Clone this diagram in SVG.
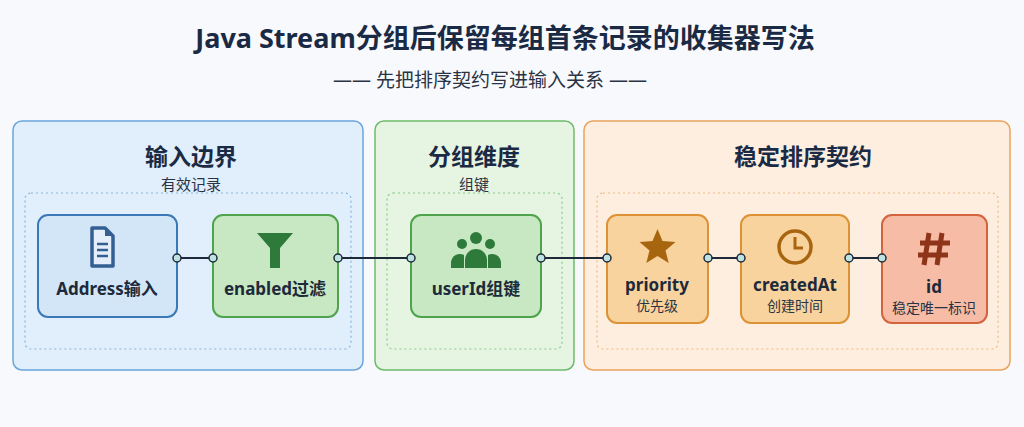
<svg xmlns="http://www.w3.org/2000/svg" width="1024" height="427" viewBox="0 0 1024 427">
<style>
text{font-family:"Noto Sans","Noto Sans CJK SC",sans-serif;text-anchor:middle}
.t{font-size:27px;font-weight:700;fill:#1b2a44}
.pt{font-size:23px;font-weight:700;fill:#1b2a44}
.ps{font-size:15px;fill:#2a3344}
.nl{font-size:17px;font-weight:700;fill:#1e2a3a}
.ns{font-size:14px;fill:#2a3344}
.in{fill:none;stroke-width:1.2;stroke-dasharray:2 3}
.c{stroke:#1e2a3a;stroke-width:2}
.d{fill:#bfe3e3;stroke:#1e2a3a;stroke-width:1.5}
</style>
<rect width="1024" height="427" fill="#f7f9fc"/>
<text x="505" y="48" class="t">Java Stream分组后保留每组首条记录的收集器写法</text>
<text x="490" y="87" style="font-size:19px;fill:#2a3344">—— 先把排序契约写进输入关系 ——</text>
<g id="panel-input">
<rect x="13" y="121" width="350" height="249" rx="9" fill="#e1eefb" stroke="#6aa5dc" stroke-width="1.5"/>
<text x="191" y="165" class="pt">输入边界</text>
<text x="191" y="190" class="ps">有效记录</text>
<rect x="25" y="193" width="326" height="156" rx="6" class="in" stroke="#8bb5dc"/>
</g>
<g id="panel-group">
<rect x="375" y="121" width="199" height="249" rx="9" fill="#e6f5e2" stroke="#6dbb6a" stroke-width="1.5"/>
<text x="474" y="165" class="pt">分组维度</text>
<text x="474" y="190" class="ps">组键</text>
<rect x="387" y="193" width="175" height="156" rx="6" class="in" stroke="#8cc98a"/>
</g>
<g id="panel-sort">
<rect x="584" y="121" width="426" height="249" rx="9" fill="#fdeee0" stroke="#eba35c" stroke-width="1.5"/>
<text x="803" y="165" class="pt">稳定排序契约</text>
<rect x="597" y="193" width="401" height="156" rx="6" class="in" stroke="#f0b981"/>
</g>
<g id="node-address">
<rect x="38" y="215" width="139" height="102" rx="10" fill="#d3e6f8" stroke="#3a78b8" stroke-width="2"/>
<path d="M92 228h13l8 8v30h-21z" fill="#e4eefa" stroke="#345f92" stroke-width="3.5" stroke-linejoin="round"/>
<path d="M105 228v8h8z" fill="#345f92"/>
<path d="M97 244h11M97 250h11M97 256h11" stroke="#345f92" stroke-width="2.5"/>
<text x="107" y="295" class="nl">Address输入</text>
</g>
<g id="node-enabled">
<rect x="213" y="215" width="125" height="102" rx="10" fill="#c7e8c2" stroke="#4fa34c" stroke-width="2"/>
<path d="M257 233h36l-13 15v20h-10v-20z" fill="#2e7a3a"/>
<text x="275" y="295" class="nl">enabled过滤</text>
</g>
<g id="node-userid">
<rect x="411" y="215" width="130" height="102" rx="10" fill="#c7e8c2" stroke="#4fa34c" stroke-width="2"/>
<g fill="#2e7a3a">
<circle cx="476" cy="238" r="6"/><circle cx="462" cy="244" r="5"/><circle cx="490" cy="244" r="5"/>
<path d="M465 268v-8a11 11 0 0 1 22 0v8z"/>
<path d="M451 268v-6a9 9 0 0 1 13-7v13z"/><path d="M501 268v-6a9 9 0 0 0-13-7v13z"/>
</g>
<text x="476" y="295" class="nl">userId组键</text>
</g>
<g id="node-priority">
<rect x="607" y="215" width="101" height="108" rx="10" fill="#f8d39e" stroke="#dc9235" stroke-width="2"/>
<path d="M657.5 229l5 12 13 1-10 8.5 3.2 12.5-11.2-7-11.2 7 3.2-12.5-10-8.5 13-1z" fill="#a8650f"/>
<text x="657" y="291" class="nl">priority</text>
<text x="657" y="311" class="ns">优先级</text>
</g>
<g id="node-createdat">
<rect x="741" y="215" width="108" height="108" rx="10" fill="#f8d39e" stroke="#dc9235" stroke-width="2"/>
<circle cx="795" cy="247" r="16" fill="none" stroke="#a8650f" stroke-width="3.5"/>
<path d="M795 237v11h8" fill="none" stroke="#a8650f" stroke-width="3"/>
<text x="795" y="291" class="nl">createdAt</text>
<text x="795" y="311" class="ns">创建时间</text>
</g>
<g id="node-id">
<rect x="882" y="215" width="105" height="108" rx="10" fill="#f7bca6" stroke="#d4643d" stroke-width="2"/>
<path d="M929 233l-5 32M942 233l-5 32M920 243h30M918 255h30" stroke="#8e3418" stroke-width="5"/>
<text x="934" y="293" class="nl">id</text>
<text x="934" y="313" class="ns">稳定唯一标识</text>
</g>
<g id="connectors">
<line x1="177" y1="258" x2="213" y2="258" class="c"/>
<line x1="338" y1="258" x2="411" y2="258" class="c"/>
<line x1="541" y1="258" x2="607" y2="258" class="c"/>
<line x1="708" y1="258" x2="741" y2="258" class="c"/>
<line x1="849" y1="258" x2="882" y2="258" class="c"/>
<circle cx="177" cy="258" r="4" class="d"/><circle cx="213" cy="258" r="4" class="d"/>
<circle cx="338" cy="258" r="4" class="d"/><circle cx="411" cy="258" r="4" class="d"/>
<circle cx="541" cy="258" r="4" class="d"/><circle cx="607" cy="258" r="4" class="d"/>
<circle cx="708" cy="258" r="4" class="d"/><circle cx="741" cy="258" r="4" class="d"/>
<circle cx="849" cy="258" r="4" class="d"/><circle cx="882" cy="258" r="4" class="d"/>
</g>
</svg>
